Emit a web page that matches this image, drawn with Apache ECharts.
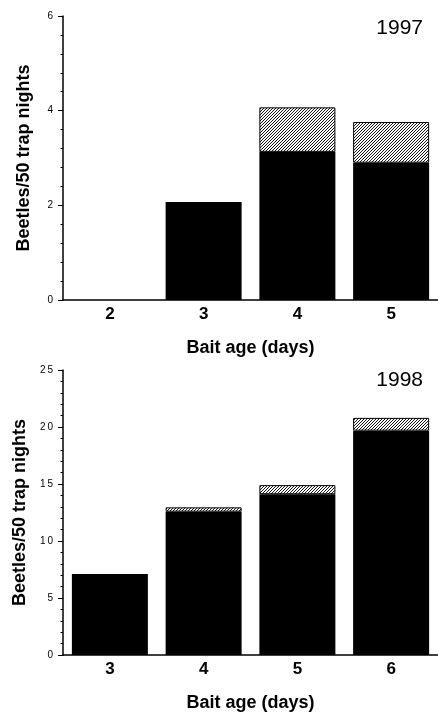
<!DOCTYPE html>
<html>
<head>
<meta charset="utf-8">
<script src="https://cdn.jsdelivr.net/npm/echarts@6/dist/echarts.min.js"></script>
<style>
html,body{margin:0;padding:0;background:#fff;}
#chart{width:438px;height:715px;}
</style>
</head>
<body>
<div id="chart"></div>
<script>
// ---- data ----
const cats1997 = ['2', '3', '4', '5'];
const solid1997 = [0, 2.07, 3.13, 2.90];
const hatched1997 = [0, 0, 0.94, 0.86];

const cats1998 = ['3', '4', '5', '6'];
const solid1998 = [7.1, 12.57, 14.1, 19.68];
const hatched1998 = [0, 0.38, 0.8, 1.12];

const yTicks1997 = [0, 2, 4, 6];
const yTicks1998 = [0, 5, 10, 15, 20, 25];

// ---- hatch pattern ----
function makeHatch() {
  const c = document.createElement('canvas');
  const n = 3;
  c.width = n; c.height = n;
  const ctx = c.getContext('2d');
  const img = ctx.createImageData(n, n);
  for (let y = 0; y < n; y++) {
    for (let x = 0; x < n; x++) {
      const i = (y * n + x) * 4;
      const dark = (x + y) % n === n - 1;
      const v = dark ? 20 : 255;
      img.data[i] = v; img.data[i + 1] = v; img.data[i + 2] = v; img.data[i + 3] = 255;
    }
  }
  ctx.putImageData(img, 0, 0);
  return c;
}
const hatch = { image: makeHatch(), repeat: 'repeat' };

const FONT = 'Liberation Sans, Arial, sans-serif';
const spaced = v => String(v).split('').join('\u2009');
const noZero = arr => arr.map(v => (v === 0 ? '-' : v));

function xAxis(idx, cats) {
  return {
    gridIndex: idx, type: 'category', data: cats,
    axisLine: { lineStyle: { color: '#000', width: 1.5 } },
    axisTick: { length: 3, lineStyle: { color: '#000', width: 1 } },
    axisLabel: { color: '#000', fontSize: 17, fontWeight: 'bold', fontFamily: FONT, margin: 6 },
    name: 'Bait age (days)', nameLocation: 'middle', nameGap: 39,
    nameTextStyle: { color: '#000', fontSize: 18, fontWeight: 'bold', fontFamily: FONT }
  };
}
function yAxis(idx, ticks) {
  const mn = ticks[0], mx = ticks[ticks.length - 1];
  return {
    gridIndex: idx, type: 'value', min: mn, max: mx, interval: ticks[1] - ticks[0],
    axisLine: { show: true, lineStyle: { color: '#000', width: 1.5 } },
    axisTick: { show: true, length: 5, lineStyle: { color: '#000', width: 1 } },
    minorTick: { show: true, splitNumber: 5, length: 2.5, lineStyle: { color: '#000', width: 1 } },
    splitLine: { show: false },
    axisLabel: { color: '#000', fontSize: 10, fontFamily: FONT, margin: 10, formatter: spaced },
    name: 'Beetles/50 trap nights', nameLocation: 'middle', nameGap: 30,
    nameTextStyle: { color: '#000', fontSize: 18, fontWeight: 'bold', fontFamily: FONT }
  };
}
function bars(idx, solid, hat) {
  return [
    { type: 'bar', xAxisIndex: idx, yAxisIndex: idx, stack: 's' + idx, data: noZero(solid),
      barWidth: 76, itemStyle: { color: '#000' } },
    { type: 'bar', xAxisIndex: idx, yAxisIndex: idx, stack: 's' + idx, data: noZero(hat),
      barWidth: 76, itemStyle: { color: hatch, borderColor: '#000', borderWidth: 1 } }
  ];
}

const chart = echarts.init(document.getElementById('chart'), null, { renderer: 'canvas' });
chart.setOption({
  animation: false,
  backgroundColor: '#fff',
  title: [
    { text: '1997', right: 10, top: 13, textStyle: { color: '#000', fontSize: 21, fontWeight: 'normal', fontFamily: FONT } },
    { text: '1998', right: 10, top: 365, textStyle: { color: '#000', fontSize: 21, fontWeight: 'normal', fontFamily: FONT } }
  ],
  grid: [
    { left: 63, top: 16, width: 378, height: 284 },
    { left: 63, top: 370, width: 378, height: 285 }
  ],
  xAxis: [xAxis(0, cats1997), xAxis(1, cats1998)],
  yAxis: [yAxis(0, yTicks1997), yAxis(1, yTicks1998)],
  series: [...bars(0, solid1997, hatched1997), ...bars(1, solid1998, hatched1998)]
});
</script>
</body>
</html>
